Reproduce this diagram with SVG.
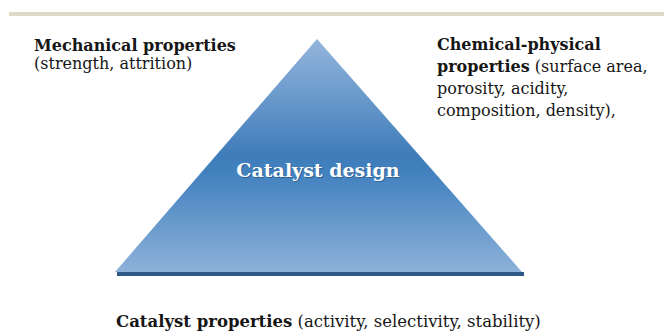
<svg xmlns="http://www.w3.org/2000/svg" width="664" height="334" viewBox="0 0 664 334">
  <style>
    .t { font-family: "DejaVu Serif", "Liberation Serif", serif; font-size: 16px; fill: #161616; }
    .b { font-weight: bold; }
    .big { font-size: 16.5px; }
    .center { font-family: "DejaVu Serif", "Liberation Serif", serif; font-size: 19px; font-weight: bold; fill: #ffffff; text-anchor: middle; }
    .shadow { fill: #1f4a78; opacity: 0.6; }
  </style>
  <defs>
    <linearGradient id="pyr" x1="0" y1="40" x2="0" y2="272" gradientUnits="userSpaceOnUse">
      <stop offset="0" stop-color="#93b5dc"/>
      <stop offset="0.5" stop-color="#3f7cba"/>
      <stop offset="0.58" stop-color="#4382bf"/>
      <stop offset="1" stop-color="#8db1d9"/>
    </linearGradient>
  </defs>
  <rect x="0" y="0" width="664" height="334" fill="#ffffff"/>
  <rect x="9" y="12" width="655" height="4" fill="#dcd9c6"/>

  <g id="pyramid">
    <polygon points="117,272 524,272 524,276 117,276" fill="#2c5987"/>
    <polygon points="317,39 522,272 115,272" fill="url(#pyr)"/>
    <text class="center shadow" x="319" y="178">Catalyst design</text>
    <text class="center" x="318" y="177">Catalyst design</text>
  </g>

  <g id="mechanical">
    <text class="t b" x="34" y="51">Mechanical properties</text>
    <text class="t" x="34" y="69">(strength, attrition)</text>
  </g>

  <g id="chemical">
    <text class="t b" x="437" y="50">Chemical-physical</text>
    <text class="t" x="437" y="72"><tspan class="b">properties</tspan> (surface area,</text>
    <text class="t" x="437" y="94">porosity, acidity,</text>
    <text class="t" x="437" y="116">composition, density),</text>
  </g>

  <g id="catalyst-properties">
    <text class="t big" x="116" y="327"><tspan class="b">Catalyst properties</tspan> (activity, selectivity, stability)</text>
  </g>

  <g id="connectors"></g>
</svg>
